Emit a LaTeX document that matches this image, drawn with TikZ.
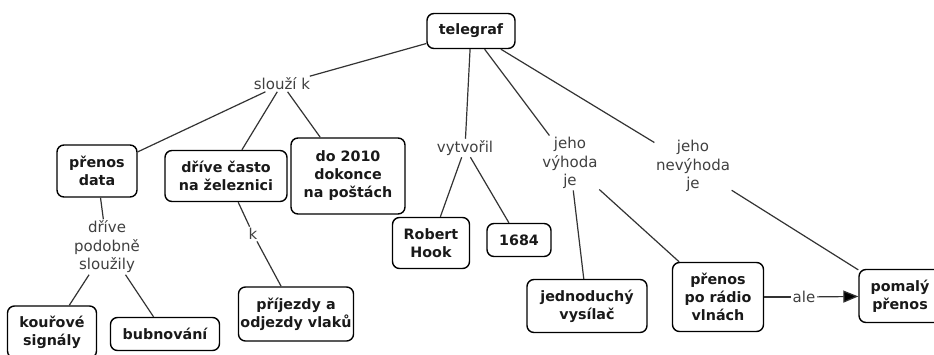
\documentclass[tikz,border=0pt]{standalone}
\usepackage{fontspec}
\setmainfont{DejaVu Sans}
\usetikzlibrary{arrows.meta}
\tikzset{
  concept/.style={draw=black, line width=1.4pt, rounded corners=7pt, fill=white,
    align=center, inner sep=2pt, font=\fontsize{14.3}{18}\selectfont\bfseries, text=black!90},
  link/.style={align=center, inner sep=1.5pt, font=\fontsize{15}{18.5}\selectfont, text=black!75},
  conn/.style={draw=black!80, line width=1.2pt}
}
\begin{document}
\begin{tikzpicture}[x=1pt,y=-1pt]
\useasboundingbox (0,0) rectangle (934,354);
\clip (0,0) rectangle (934,354);
\fill[white] (0,0) rectangle (934,354);

% concepts
\node[concept, minimum width=88, minimum height=35] (tel) at (471,31) {telegraf};
\node[concept, minimum width=80, minimum height=52] (data) at (97,171) {přenos\\data};
\node[concept, minimum width=122, minimum height=51] (zel) at (226,176) {dříve často\\na železnici};
\node[concept, minimum width=114, minimum height=76] (posta) at (348,176) {do 2010\\dokonce\\na poštách};
\node[concept, minimum width=89, minimum height=52] (kour) at (52,332) {kouřové\\signály};
\node[concept, minimum width=109, minimum height=33] (bub) at (165,334) {bubnování};
\node[concept, minimum width=110, minimum height=54] (vlak) at (296,314) {příjezdy a\\odjezdy vlaků};
\node[concept, minimum width=77, minimum height=51] (hook) at (431,243) {Robert\\Hook};
\node[concept, minimum width=64, minimum height=33] (rok) at (519,240) {1684};
\node[concept, minimum width=120, minimum height=53] (vys) at (587,306) {jednoduchý\\vysílač};
\node[concept, minimum width=91, minimum height=69] (radio) at (718,297) {přenos\\po rádio\\vlnách};
\node[concept, minimum width=82, minimum height=53] (pomal) at (900,296) {pomalý\\přenos};

% linking phrases
\node[link] (slouzi) at (282,84) {slouží k};
\node[link] (podob) at (107,247) {dříve\\podobně\\sloužily};
\node[link] (k) at (253,234) {k};
\node[link] (vytv) at (465,148) {vytvořil};
\node[link] (vyhoda) at (570,163) {jeho\\výhoda\\je};
\node[link] (nevyhoda) at (693,166) {jeho\\nevýhoda\\je};
\node[link] (ale) at (804,297) {ale};

% connectors
\draw[conn] (tel) -- (slouzi);
\draw[conn] (slouzi) -- (data);
\draw[conn] (slouzi) -- (zel);
\draw[conn] (slouzi) -- (posta);
\draw[conn] (data) -- (podob);
\draw[conn] (podob) -- (kour);
\draw[conn] (podob) -- (bub);
\draw[conn] (zel) -- (k);
\draw[conn] (k) -- (vlak);
\draw[conn] (tel) -- (vytv);
\draw[conn] (vytv) -- (hook);
\draw[conn] (vytv) -- (rok);
\draw[conn] (tel) -- (vyhoda);
\draw[conn] (vyhoda) -- (vys);
\draw[conn] (vyhoda) -- (radio);
\draw[conn] (tel) -- (nevyhoda);
\draw[conn] (nevyhoda) -- (pomal);
\draw[conn] (radio) -- (ale);
\draw[conn, -{Triangle[length=15pt,width=12pt,fill=black]}] (ale) -- (pomal);
\end{tikzpicture}
\end{document}
